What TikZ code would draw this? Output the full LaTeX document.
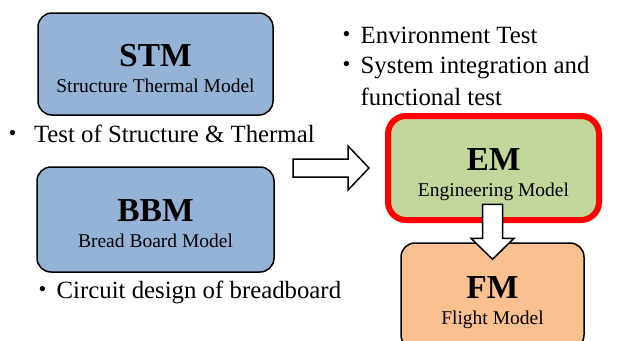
\documentclass[tikz,border=0pt]{standalone}
\usepackage{fontspec}
\setmainfont{Liberation Serif}
\newfontfamily\cjk{Noto Sans CJK JP}
\definecolor{stmblue}{HTML}{95B3D7}
\definecolor{emgreen}{HTML}{C3D69B}
\definecolor{fmorange}{HTML}{FAC090}
\newcommand{\bul}{\makebox[27pt][c]{\cjk ・}}

\begin{document}
\begin{tikzpicture}[x=1pt,y=-1pt,
  box/.style={draw,line width=1.5pt,rounded corners=14pt,inner sep=0pt},
  ttl/.style={font=\fontsize{33.5}{34}\selectfont\bfseries,inner sep=0pt,anchor=base},
  sub/.style={font=\fontsize{19.5}{20}\selectfont,inner sep=0pt,anchor=base},
  note/.style={font=\fontsize{24.8}{25}\selectfont,inner sep=0pt,anchor=base west},
  blk/.style={draw,line width=1.5pt,fill=white,line join=miter}]
\clip (0,0) rectangle (618,340);
\fill[white] (0,0) rectangle (618,340);
\newcommand{\mdl}[8]{
  \node[box,#6,minimum width=#4pt,minimum height=#5pt] (#1) at (#2,#3) {};
  \node[ttl] (#1T) at (#2,#3+2) {#7};
  \node[sub] (#1S) at (#2,#3+28) {#8};
}
\mdl{stm}{155.5}{64}{235}{102}{fill=stmblue}{STM}{Structure Thermal Model}
\mdl{bbm}{155.5}{219.5}{237}{105}{fill=stmblue}{BBM}{Bread Board Model}
\mdl{em}{493.5}{168}{211}{104}{fill=emgreen,draw=red,line width=6pt,rounded corners=18pt}{EM}{Engineering Model}
\mdl{fm}{492.5}{296}{183}{106}{fill=fmorange}{FM}{Flight Model}
% notes
\node[note] (nstm) at (0,142) {{\cjk ・}\hspace{9pt}Test of Structure \& Thermal};
\node[note] (nenv) at (333.5,43) {\bul Environment Test};
\node[note] (nsys) at (333.5,73) {\bul System integration and};
\node[note] (nfun) at (360.5,105) {functional test};
\node[note] (nbbm) at (29.5,298) {\bul Circuit design of breadboard};
% block arrows
\coordinate (rtip) at ([xshift=-16pt]em.west);
\draw[blk] (rtip) -- ++(-21,-22) -- ++(0,13) -- ++(-55,0) -- ++(0,18) -- ++(55,0) -- ++(0,13) -- cycle;
\coordinate (dtip) at ([yshift=-17pt]fm.north);
\draw[blk] (dtip) -- ++(-21.5,-21) -- ++(11.5,0) -- ++(0,-34) -- ++(20,0) -- ++(0,34) -- ++(11.5,0) -- cycle;
\end{tikzpicture}
\end{document}
